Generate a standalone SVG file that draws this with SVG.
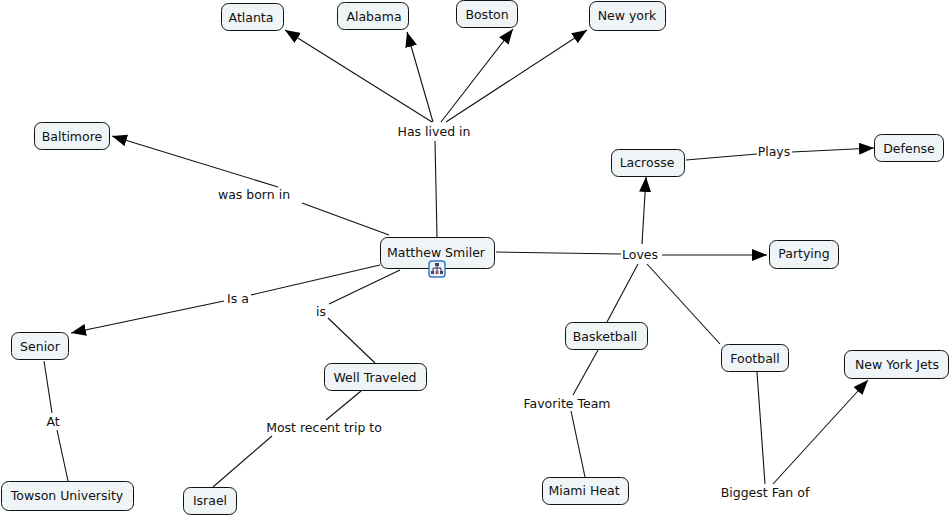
<svg xmlns="http://www.w3.org/2000/svg" width="952" height="517" viewBox="0 0 952 517">
<style>
text{font-family:"DejaVu Sans",sans-serif;font-size:12.5px;fill:#111;text-anchor:middle}
.n rect{fill:#eff5f7;stroke:#111;stroke-width:1}
.c line{stroke:#111;stroke-width:1.1;fill:none}
.a{fill:#000;stroke:none}
</style>
<defs>
<marker id="arr" markerUnits="userSpaceOnUse" markerWidth="16" markerHeight="12" refX="15" refY="6" orient="auto"><path class="a" d="M0 0L15 6L0 12z"/></marker>
</defs>
<rect width="952" height="517" fill="#fff"/>
<g id="connectors" class="c">
<line x1="432" y1="122" x2="285" y2="30" marker-end="url(#arr)"/>
<line x1="433" y1="122" x2="407" y2="32" marker-end="url(#arr)"/>
<line x1="441" y1="122" x2="513" y2="29" marker-end="url(#arr)"/>
<line x1="446" y1="122" x2="587" y2="30" marker-end="url(#arr)"/>
<line x1="435" y1="141" x2="437" y2="237"/>
<line x1="278" y1="187" x2="112" y2="136" marker-end="url(#arr)"/>
<line x1="302" y1="203" x2="389" y2="235"/>
<line x1="496" y1="252" x2="621" y2="254"/>
<line x1="642" y1="244" x2="646" y2="177" marker-end="url(#arr)"/>
<line x1="662" y1="255" x2="767" y2="255" marker-end="url(#arr)"/>
<line x1="638" y1="264" x2="607" y2="322"/>
<line x1="647" y1="264" x2="720" y2="344"/>
<line x1="686" y1="160" x2="757" y2="154"/>
<line x1="792" y1="152" x2="874" y2="148" marker-end="url(#arr)"/>
<line x1="380" y1="265" x2="251" y2="295"/>
<line x1="224" y1="301" x2="71" y2="333" marker-end="url(#arr)"/>
<line x1="400" y1="270" x2="329" y2="304"/>
<line x1="328" y1="318" x2="375" y2="363"/>
<line x1="44" y1="361" x2="52" y2="413"/>
<line x1="57" y1="430" x2="68" y2="481"/>
<line x1="361" y1="391" x2="326" y2="420"/>
<line x1="272" y1="436" x2="213" y2="487"/>
<line x1="598" y1="350" x2="573" y2="395"/>
<line x1="571" y1="411" x2="585" y2="477"/>
<line x1="757" y1="372" x2="765" y2="484"/>
<line x1="773" y1="484" x2="868" y2="380" marker-end="url(#arr)"/>
</g>
<g id="atlanta" class="n"><rect x="221.500" y="3.500" width="62" height="27" rx="7"/><text x="251" y="22">Atlanta</text></g>
<g id="alabama" class="n"><rect x="337.500" y="2.500" width="71" height="27" rx="7"/><text x="374" y="21">Alabama</text></g>
<g id="boston" class="n"><rect x="456.500" y="0.500" width="61" height="27" rx="7"/><text x="487" y="19">Boston</text></g>
<g id="newyork" class="n"><rect x="589.500" y="1.500" width="76" height="29" rx="7"/><text x="627" y="20">New york</text></g>
<g id="baltimore" class="n"><rect x="34.500" y="122.500" width="75" height="27" rx="7"/><text x="72" y="141">Baltimore</text></g>
<g id="lacrosse" class="n"><rect x="611.500" y="149.500" width="73" height="27" rx="7"/><text x="647" y="167">Lacrosse</text></g>
<g id="defense" class="n"><rect x="874.500" y="134.500" width="69" height="27" rx="7"/><text x="909" y="153">Defense</text></g>
<g id="partying" class="n"><rect x="769.500" y="240.500" width="69" height="28" rx="7"/><text x="804" y="258">Partying</text></g>
<g id="matthew" class="n"><rect x="380.500" y="237.500" width="114" height="31" rx="7"/><text x="436" y="257">Matthew Smiler</text></g>
<g id="icon"><rect x="429" y="261" width="16" height="16" rx="3" fill="#eaf2fb" stroke="#3a78c8" stroke-width="1.500"/><path d="M437 264v3M433 271v-3h8v3M437 267v4" stroke="#334" fill="none"/><rect x="435" y="263" width="4" height="3" fill="#445"/><rect x="431" y="271" width="3" height="3" fill="#445"/><rect x="435.500" y="271" width="3" height="3" fill="#a55"/><rect x="440" y="271" width="3" height="3" fill="#445"/></g>
<g id="senior" class="n"><rect x="11.500" y="332.500" width="57" height="27" rx="7"/><text x="40" y="351">Senior</text></g>
<g id="welltraveled" class="n"><rect x="324.500" y="363.500" width="102" height="27" rx="7"/><text x="375" y="382">Well Traveled</text></g>
<g id="basketball" class="n"><rect x="565.500" y="322.500" width="82" height="27" rx="7"/><text x="605" y="341">Basketball</text></g>
<g id="football" class="n"><rect x="721.500" y="344.500" width="67" height="27" rx="7"/><text x="755" y="363">Football</text></g>
<g id="jets" class="n"><rect x="844.500" y="350.500" width="104" height="28" rx="7"/><text x="897" y="369">New York Jets</text></g>
<g id="towson" class="n"><rect x="1.500" y="481.500" width="132" height="29" rx="7"/><text x="67" y="500">Towson University</text></g>
<g id="israel" class="n"><rect x="183.500" y="487.500" width="53" height="27" rx="7"/><text x="210" y="505">Israel</text></g>
<g id="heat" class="n"><rect x="542.500" y="477.500" width="86" height="27" rx="7"/><text x="584" y="495">Miami Heat</text></g>
<g id="labels">
<text x="434" y="136">Has lived in</text>
<text x="254" y="199">was born in</text>
<text x="640" y="259">Loves</text>
<text x="774" y="156">Plays</text>
<text x="238" y="303">Is a</text>
<text x="321" y="316">is</text>
<text x="53" y="426">At</text>
<text x="324" y="432">Most recent trip to</text>
<text x="567" y="408">Favorite Team</text>
<text x="765" y="497">Biggest Fan of</text>
</g>
</svg>
